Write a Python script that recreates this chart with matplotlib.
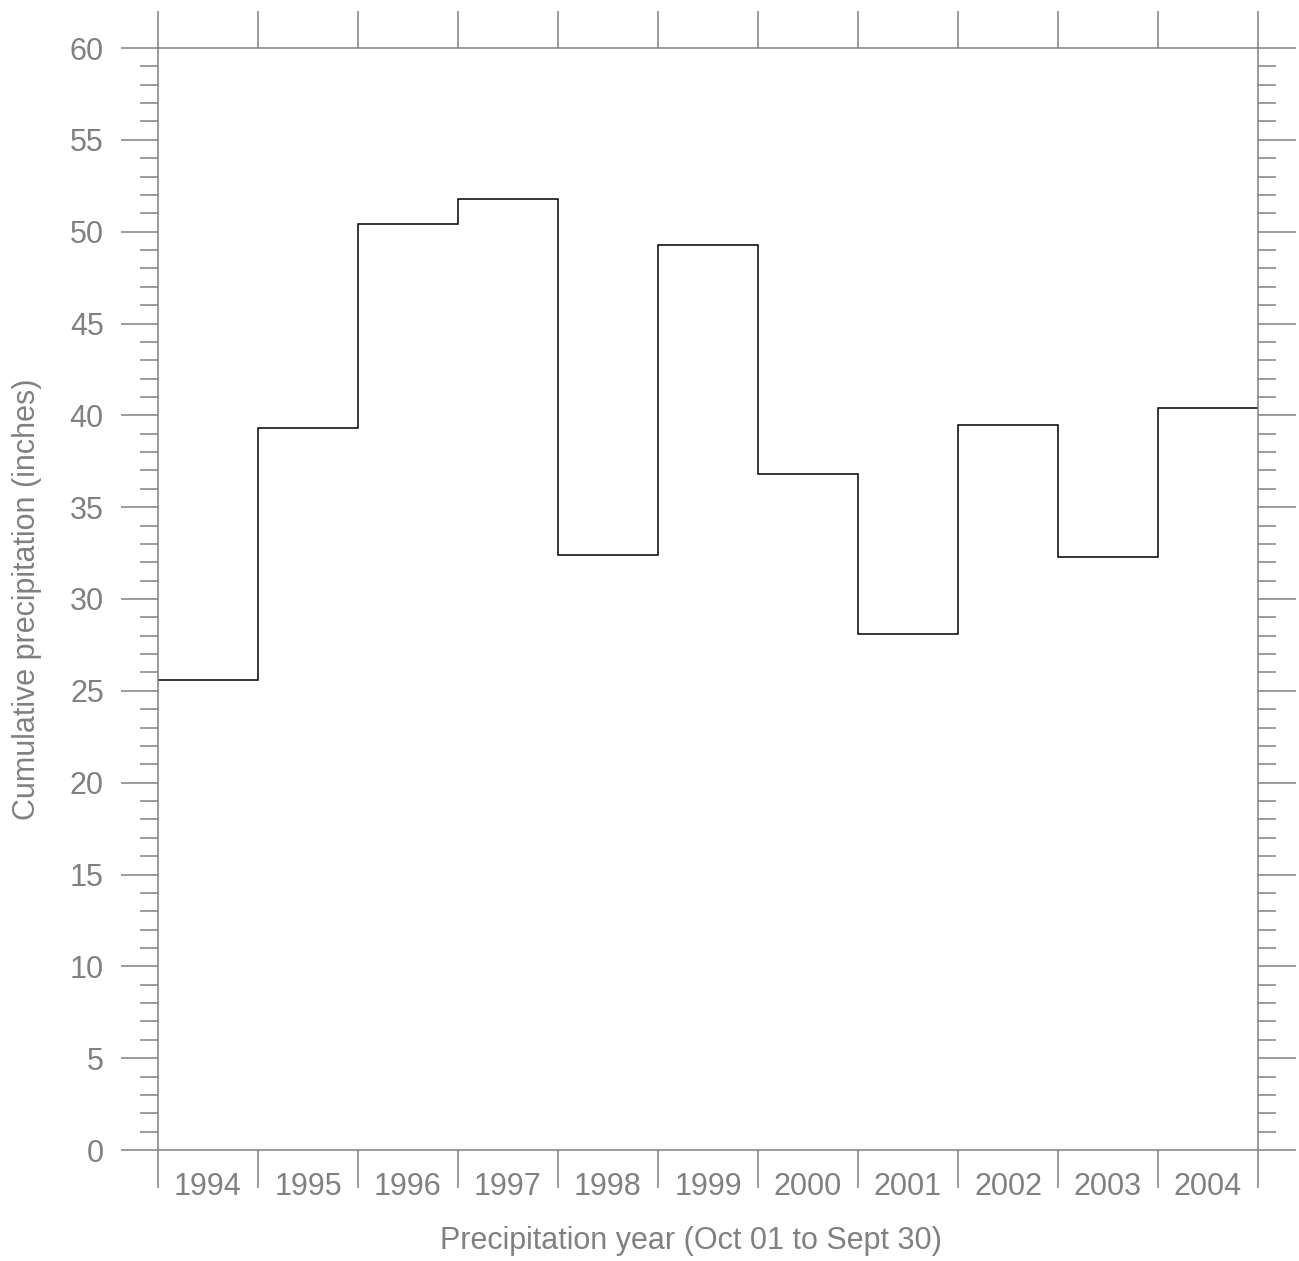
import numpy as np
import matplotlib.pyplot as plt
from matplotlib.ticker import MultipleLocator, FixedLocator

plt.rcParams['font.family'] = ['Liberation Sans', 'DejaVu Sans']

# precipitation years (Oct 01 to Sept 30)
years = [1994, 1995, 1996, 1997, 1998, 1999, 2000, 2001, 2002, 2003, 2004]
precip = [25.6, 39.3, 50.4, 51.8, 32.4, 49.3, 36.8, 28.1, 39.5, 32.3, 40.4]

grey = '#808080'
edges = np.arange(years[0], years[-1] + 2)

fig = plt.figure(figsize=(12.99, 12.61), dpi=100)
ax = fig.add_axes([158/1299, 1 - 1150/1261, 1100/1299, 1102/1261])

ax.stairs(precip, edges, baseline=None, color='black', linewidth=1.1)

ax.set_xlim(edges[0], edges[-1])
ax.set_ylim(0, 60)

for s in ax.spines.values():
    s.set_color(grey)
    s.set_linewidth(1.1)

# y ticks on both sides, outward
ax.yaxis.set_major_locator(MultipleLocator(5))
ax.yaxis.set_minor_locator(MultipleLocator(1))
ax.tick_params(axis='y', which='major', direction='out', length=27, width=1.1,
               color=grey, labelcolor=grey, labelsize=22, pad=12,
               left=True, right=True, labelright=False)
ax.tick_params(axis='y', which='minor', direction='out', length=13, width=1.1,
               color=grey, left=True, right=True)

# x: boundary ticks top and bottom, labels centred on each year
ax.xaxis.set_major_locator(FixedLocator(edges))
ax.xaxis.set_minor_locator(FixedLocator(np.array(years) + 0.5))
ax.xaxis.set_minor_formatter(plt.FixedFormatter([str(y) for y in years]))
ax.xaxis.set_major_formatter(plt.NullFormatter())
ax.tick_params(axis='x', which='major', direction='out', length=27, width=1.1,
               color=grey, top=True, bottom=True)
ax.tick_params(axis='x', which='minor', length=0, labelcolor=grey,
               labelsize=22, pad=16)

ax.set_xlabel('Precipitation year (Oct 01 to Sept 30)', color=grey, fontsize=22,
              va='center')
ax.xaxis.set_label_coords(0.4845, -0.0826)
ax.set_ylabel('Cumulative precipitation (inches)', color=grey, fontsize=22, labelpad=20)

fig.savefig('out.png', dpi=100)
